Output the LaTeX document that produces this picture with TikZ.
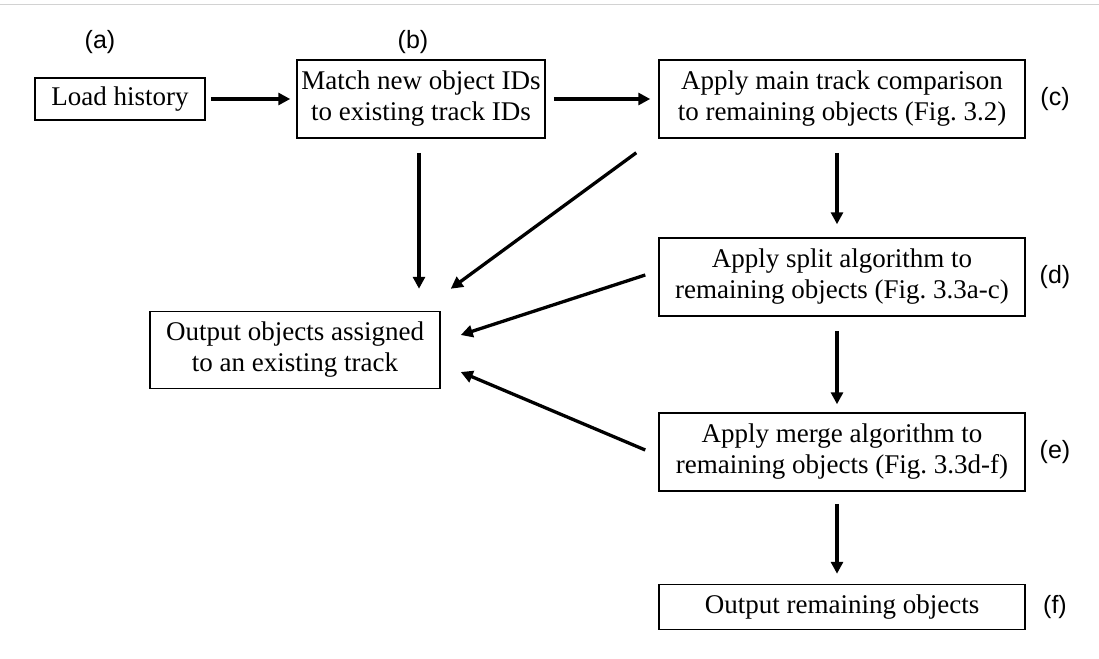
\documentclass[tikz,border=0pt]{standalone}
\usepackage{fontspec}
\setmainfont{Liberation Serif}
\newfontfamily\tagfont{Liberation Sans}
\usepackage{tikz}
\usetikzlibrary{arrows.meta,positioning,calc}

\begin{document}
\begin{tikzpicture}[x=1pt, y=-1pt,
    stepbox/.style={rectangle, draw, line width=1.5pt, align=center, inner sep=0pt, minimum height=78pt, font=\fontsize{27}{31}\selectfont},
    tag/.style={font=\tagfont\fontsize{25}{27}\selectfont},
    arr/.style={line width=3.3pt, -{Triangle[length=12pt,width=12pt]}, shorten <=12pt, shorten >=12pt}]

  \useasboundingbox (0,0) rectangle (1099,658);
  \draw[gray!35, line width=1pt] (0,5) -- (1099,5);

  % main column
  \node[stepbox, minimum width=170pt, minimum height=42pt] (load) at (120,99) {Load history};
  \node[stepbox, minimum width=248pt] (match) at (421,99) {Match new object IDs\\to existing track IDs};
  \node[stepbox, minimum width=366pt] (mainc) at (842,99) {Apply main track comparison\\to remaining objects (Fig.~3.2)};
  \node[stepbox, minimum width=366pt] (split) at (842,277) {Apply split algorithm to\\remaining objects (Fig.~3.3a-c)};
  \node[stepbox, minimum width=366pt] (merge) at (842,452) {Apply merge algorithm to\\remaining objects (Fig.~3.3d-f)};
  \node[stepbox, minimum width=366pt, minimum height=45pt] (outrem) at (842,607) {Output remaining objects};
  \node[stepbox, minimum width=290pt, minimum height=77pt] (outasg) at (295,350) {Output objects assigned\\to an existing track};

  % step tags
  \node[tag] (taga) at (100,42) {(a)};
  \node[tag] (tagb) at (413,42) {(b)};
  \node[tag] (tagc) at (1055,99) {(c)};
  \node[tag] (tagd) at (1055,277) {(d)};
  \node[tag] (tage) at (1055,452) {(e)};
  \node[tag] (tagf) at (1055,607) {(f)};

  \draw[arr, shorten <=5pt, shorten >=6pt] (load) -- (match);
  \draw[arr, shorten <=8pt, shorten >=8pt] (match) -- (mainc);
  \draw[arr, shorten <=14pt, shorten >=13pt] ([xshift=-5pt]mainc.south) -- ([xshift=-5pt]split.north);
  \draw[arr, shorten <=14pt, shorten >=8pt] ([xshift=-5pt]split.south) -- ([xshift=-5pt]merge.north);
  \draw[arr, shorten <=12pt, shorten >=10pt] ([xshift=-5pt]merge.south) -- ([xshift=-5pt]outrem.north);
  \draw[arr, shorten <=14pt, shorten >=22pt] ([xshift=-2pt]match.south) -- ([xshift=-2pt]match.south |- outasg.north);
  \draw[arr, shorten <=0pt, shorten >=0pt] ($(mainc.south west)+(-22,14)$) -- ($(outasg.north east)+(10,-22)$);
  \draw[arr, shorten <=0pt, shorten >=0pt] ($(split.west)+(-13,-2)$) -- ($(outasg.east)+(20,-15)$);
  \draw[arr, shorten <=0pt, shorten >=0pt] ($(merge.west)+(-13,-2)$) -- ($(outasg.east)+(20,22)$);
\end{tikzpicture}
\end{document}
